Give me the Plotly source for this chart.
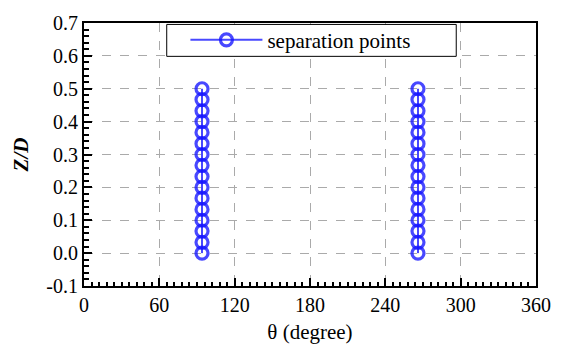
import plotly.graph_objects as go

theta_left = [94] * 16
theta_right = [266] * 16
z_over_d = [0.0, 0.033, 0.067, 0.1, 0.133, 0.167, 0.2, 0.233, 0.267, 0.3,
            0.333, 0.367, 0.4, 0.433, 0.467, 0.5]
x_ticks = [0, 60, 120, 180, 240, 300, 360]
y_ticks = [-0.1, 0.0, 0.1, 0.2, 0.3, 0.4, 0.5, 0.6, 0.7]
y_tick_labels = ["-0.1", "0.0", "0.1", "0.2", "0.3", "0.4", "0.5", "0.6", "0.7"]

blue = "rgba(20,20,255,0.78)"
serif = "Liberation Serif"

W, H = 563, 352
ML, MR, MT, MB = 84, 20, 16, 60
pw = W - ML - MR
ph = H - MT - MB

def px_to_paper_x(px):
    return (px - ML) / pw

def px_to_paper_y(py):
    return 1 - (py - MT) / ph

marker_style = dict(symbol="circle-open", size=12, color=blue, line=dict(width=3.2, color=blue))

fig = go.Figure()
fig.add_trace(go.Scatter(
    x=theta_left, y=z_over_d, mode="lines+markers", name="separation points",
    line=dict(color=blue, width=2), marker=marker_style, legendgroup="sp",
))
fig.add_trace(go.Scatter(
    x=theta_right, y=z_over_d, mode="lines+markers", name="separation points",
    line=dict(color=blue, width=2), marker=marker_style, legendgroup="sp",
    showlegend=False,
))

axis_common = dict(
    showline=True, linecolor="black", linewidth=2, mirror=True,
    ticks="inside", ticklen=8, tickwidth=2, tickcolor="black",
    showgrid=True, gridcolor="#aaaaaa", griddash="dash", gridwidth=1,
    zeroline=False,
    tickfont=dict(family=serif, size=20, color="black"),
)

fig.update_xaxes(
    range=[0, 360], tickvals=x_ticks,
    minor=dict(ticks="inside", ticklen=4, tickwidth=2, tickcolor="black", dtick=6, showgrid=False),
    title=dict(text="θ (degree)", font=dict(family=serif, size=21, color="black"), standoff=9),
    **axis_common,
)
fig.update_yaxes(
    range=[-0.1, 0.7], tickvals=y_ticks, ticktext=y_tick_labels,
    minor=dict(ticks="inside", ticklen=5, tickwidth=2, tickcolor="black", dtick=0.02, showgrid=False),
    title=dict(text="<b><i>Z/D</i></b>", font=dict(family=serif, size=21, color="black"), standoff=12),
    **axis_common,
)

# legend frame
fig.add_shape(
    type="rect", xref="paper", yref="paper", layer="above",
    x0=px_to_paper_x(168), x1=px_to_paper_x(462),
    y0=px_to_paper_y(51), y1=px_to_paper_y(17.5),
    fillcolor="white", line=dict(color="black", width=1),
)

fig.update_layout(
    width=W, height=H,
    margin=dict(l=ML, r=MR, t=MT, b=MB),
    plot_bgcolor="white", paper_bgcolor="white",
    font=dict(family=serif, color="black"),
    showlegend=True,
    legend=dict(
        x=px_to_paper_x(187), y=px_to_paper_y(34), xanchor="left", yanchor="middle",
        bgcolor="rgba(0,0,0,0)", borderwidth=0,
        font=dict(family=serif, size=21, color="black"),
        itemwidth=72,
    ),
)

fig.write_html("out.html")
